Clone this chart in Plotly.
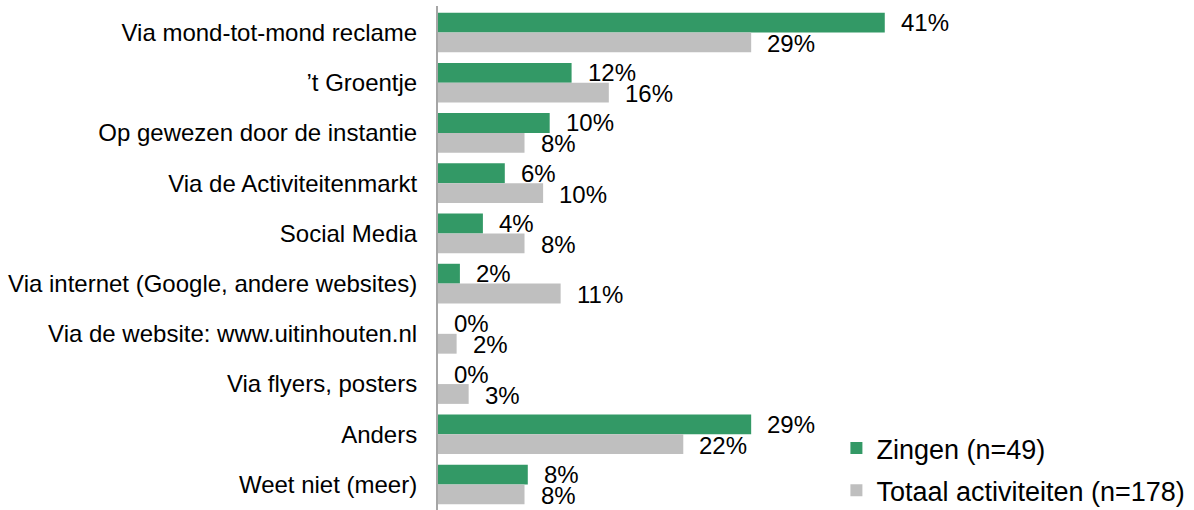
import plotly.graph_objects as go

categories = [
    "Via mond-tot-mond reclame",
    "’t Groentje",
    "Op gewezen door de instantie",
    "Via de Activiteitenmarkt",
    "Social Media",
    "Via internet (Google, andere websites)",
    "Via de website: www.uitinhouten.nl",
    "Via flyers, posters",
    "Anders",
    "Weet niet (meer)",
]
zingen = [0.408, 0.122, 0.102, 0.061, 0.041, 0.020, 0.0, 0.0, 0.286, 0.082]
totaal = [0.286, 0.156, 0.079, 0.096, 0.079, 0.112, 0.017, 0.028, 0.224, 0.079]
series_names = ["Zingen (n=49)", "Totaal activiteiten (n=178)"]
series_colors = ["#339966", "#BFBFBF"]

FONT = "Liberation Sans, Arial, sans-serif"
FS = 24
LEGEND_FS = 27

fig = go.Figure()
for name, vals, col in zip(series_names, [zingen, totaal], series_colors):
    fig.add_trace(go.Bar(
        y=categories, x=vals, name=name, orientation="h",
        marker=dict(color=col, line=dict(width=0)),
        legendgroup=name,
    ))

# value labels next to each bar end
annotations = []
for vals, ys in [(zingen, 10), (totaal, -11)]:
    for cat, v in zip(categories, vals):
        annotations.append(dict(
            x=v, y=cat, xref="x", yref="y",
            text=f"{round(v * 100)}%", showarrow=False,
            xanchor="left", yanchor="middle", xshift=14, yshift=ys,
            font=dict(family=FONT, size=FS, color="#000000"),
        ))

fig.update_layout(
    width=1194, height=510,
    margin=dict(l=438, r=0, t=6, b=0, autoexpand=False),
    paper_bgcolor="white", plot_bgcolor="white",
    barmode="group", bargap=0.21, bargroupgap=0,
    font=dict(family=FONT, size=FS, color="#000000"),
    annotations=annotations,
    showlegend=True,
    legend=dict(
        x=0.527, y=-0.01, xanchor="left", yanchor="bottom",
        traceorder="grouped", tracegroupgap=4,
        font=dict(family=FONT, size=LEGEND_FS, color="#000000"),
        bgcolor="rgba(0,0,0,0)",
    ),
    xaxis=dict(range=[0, 0.6904], visible=False, fixedrange=True),
    yaxis=dict(
        autorange="reversed", showline=True, linecolor="#A6A6A6", linewidth=2,
        showgrid=False, zeroline=False, ticks="", ticklabelstandoff=14,
        tickfont=dict(family=FONT, size=FS, color="#000000"),
    ),
)

fig.write_html("out.html")
